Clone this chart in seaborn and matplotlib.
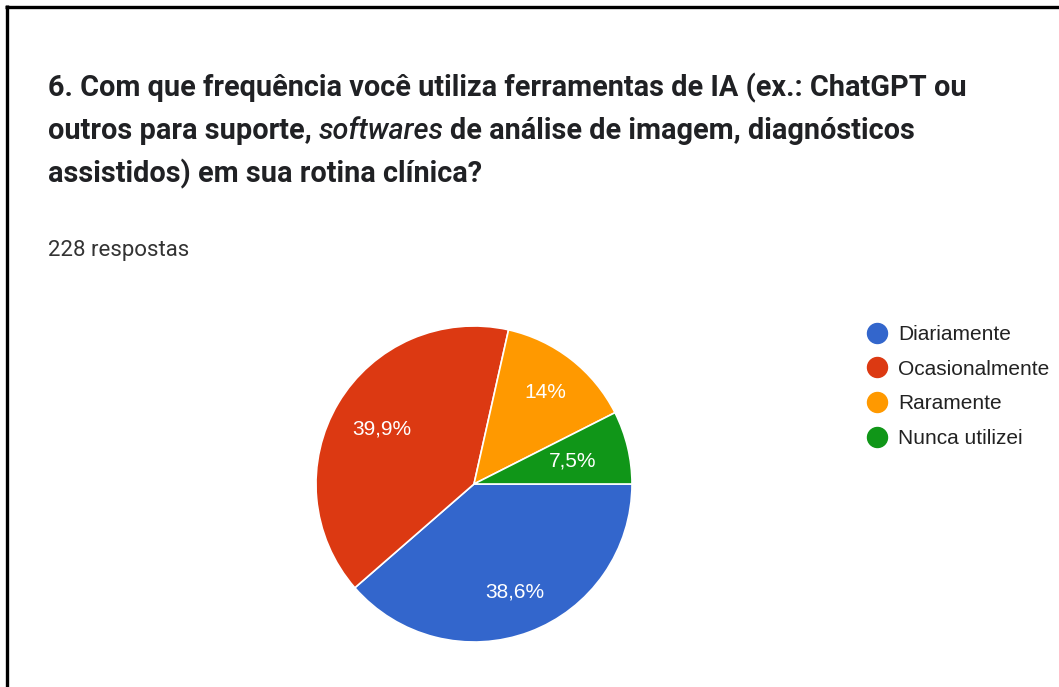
import matplotlib
matplotlib.use("Agg")
import matplotlib.pyplot as plt
from matplotlib.lines import Line2D
import numpy as np
import seaborn as sns

# dados
categorias = ["Diariamente", "Ocasionalmente", "Raramente", "Nunca utilizei"]
respostas = [88, 91, 32, 17]
rotulos = ["38,6%", "39,9%", "14%", "7,5%"]
cores = ["#3366cc", "#dc3912", "#ff9900", "#109618"]
total = 228

sns.set_theme(style="white")
plt.rcParams["font.family"] = ["Roboto", "DejaVu Sans"]

W, H = 1059, 687
fig = plt.figure(figsize=(W / 100, H / 100), dpi=100)
fig.patch.set_facecolor("white")

def fx(px):
    return px / W

def fy(py):
    return 1 - py / H

# moldura (borda superior e esquerda)
fig.add_artist(Line2D([fx(5), fx(1059)], [fy(6.5), fy(6.5)], color="black", lw=2.4,
                      solid_capstyle="butt"))
fig.add_artist(Line2D([fx(6.5), fx(6.5)], [fy(5), fy(687)], color="black", lw=2.4,
                      solid_capstyle="butt"))

# título
tam = 20.8
tkw = dict(fontsize=tam, fontweight="bold", color="#202124", va="center", ha="left")
fig.text(fx(48), fy(88), "6. Com que frequência você utiliza ferramentas de IA (ex.: ChatGPT ou", **tkw)
renderer = fig.canvas.get_renderer()
t1 = fig.text(fx(48), fy(131), "outros para suporte, ", **tkw)
x = t1.get_window_extent(renderer).x1
t2 = fig.text(x / W, fy(131), "softwares", fontsize=tam, fontstyle="italic",
              fontweight="medium", color="#202124", va="center", ha="left")
x = t2.get_window_extent(renderer).x1
fig.text(x / W + fx(6), fy(131), "de análise de imagem, diagnósticos", **tkw)
fig.text(fx(48), fy(174), "assistidos) em sua rotina clínica?", **tkw)

fig.text(fx(48), fy(251), f"{total} respostas", fontsize=16, color="#333333",
         va="center", ha="left")

# pizza
cx, cy, r = 474, 484, 158
ax = fig.add_axes([fx(cx - r), fy(cy + r), (2 * r) / W, (2 * r) / H])
wedges, _ = ax.pie(respostas, colors=cores, startangle=0, counterclock=False,
                   wedgeprops=dict(edgecolor="white", linewidth=1.2))
ax.set_xlim(-1, 1)
ax.set_ylim(-1, 1)
ax.set_aspect("equal")
ax.axis("off")

dist = [0.73, 0.68, 0.73, 0.64]
for w, lab, d in zip(wedges, rotulos, dist):
    ang = np.deg2rad((w.theta1 + w.theta2) / 2)
    ax.text(d * np.cos(ang), d * np.sin(ang), lab, color="white", fontsize=15,
            family=["Liberation Sans", "DejaVu Sans"], ha="center", va="center")

# legenda
handles = [Line2D([], [], marker="o", linestyle="none", markersize=14.4,
                  markerfacecolor=c, markeredgecolor=c) for c in cores]
leg = fig.legend(handles, categorias, loc="upper left",
                 bbox_to_anchor=(fx(864.5), fy(325)), frameon=False,
                 prop={"family": ["Liberation Sans", "DejaVu Sans"], "size": 15},
                 handletextpad=0.4, labelspacing=0.75, borderaxespad=0, borderpad=0,
                 handlelength=1.2)
for t in leg.get_texts():
    t.set_color("#222222")

fig.savefig("out.png", dpi=100, facecolor="white")
